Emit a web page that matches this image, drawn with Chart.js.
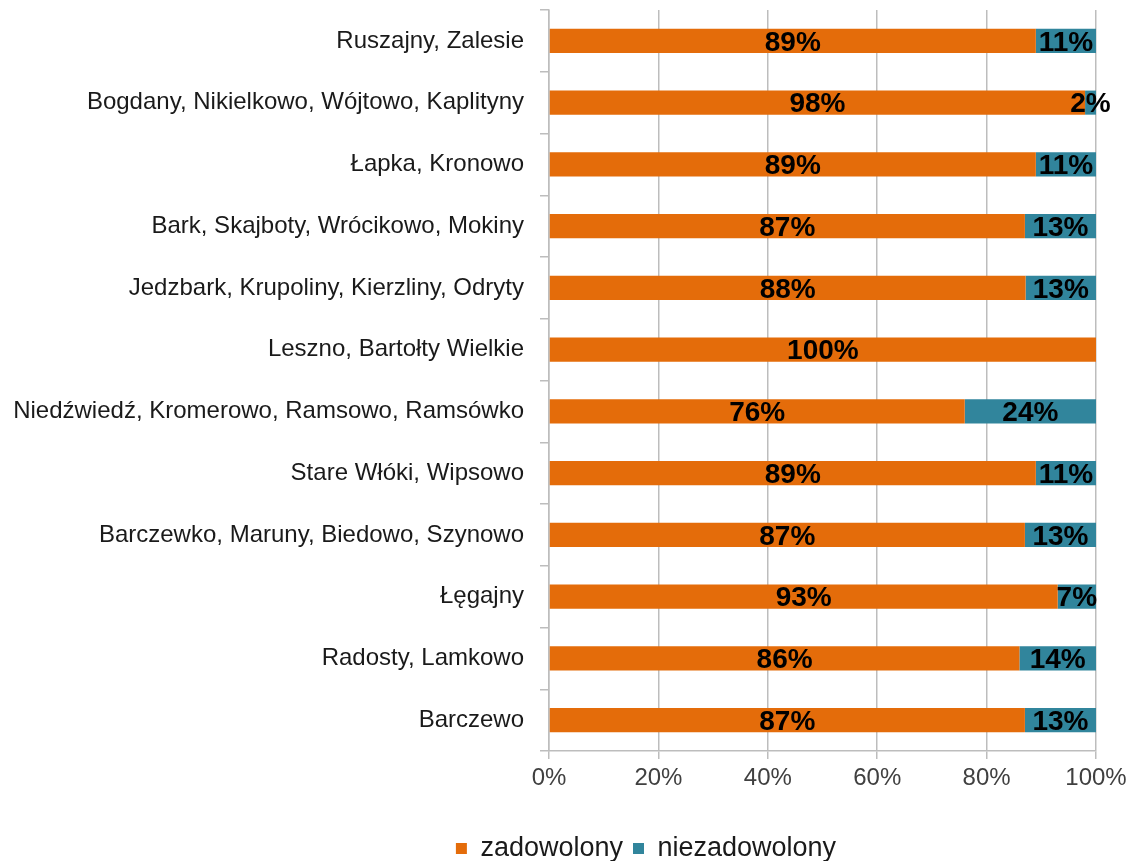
<!DOCTYPE html>
<html>
<head>
<meta charset="utf-8">
<script src="https://cdn.jsdelivr.net/npm/chart.js@4/dist/chart.umd.min.js"></script>
<style>
  html, body { margin: 0; padding: 0; background: #fff; }
  #wrap { width: 1134px; height: 861px; }
</style>
</head>
<body>
<div id="wrap"><canvas id="chart" width="1134" height="861"></canvas></div>
<script>
var categories = [
  'Ruszajny, Zalesie',
  'Bogdany, Nikielkowo, Wójtowo, Kaplityny',
  'Łapka, Kronowo',
  'Bark, Skajboty, Wrócikowo, Mokiny',
  'Jedzbark, Krupoliny, Kierzliny, Odryty',
  'Leszno, Bartołty Wielkie',
  'Niedźwiedź, Kromerowo, Ramsowo, Ramsówko',
  'Stare Włóki, Wipsowo',
  'Barczewko, Maruny, Biedowo, Szynowo',
  'Łęgajny',
  'Radosty, Lamkowo',
  'Barczewo'
];
var zadowolony = [89, 98, 89, 87, 88, 100, 76, 89, 87, 93, 86, 87];
var niezadowolony = [11, 2, 11, 13, 13, 0, 24, 11, 13, 7, 14, 13];
var xTicks = [0, 20, 40, 60, 80, 100];

var FONT = '"Liberation Sans", Arial, sans-serif';

// share of each row (100% stacked)
function share(values, i) {
  var total = zadowolony[i] + niezadowolony[i];
  return values[i] / total * 100;
}

var barLabels = {
  id: 'barLabels',
  afterLayout: function (chart) {
    // legend sits a bit right of the canvas centre and lower down
    var lg = chart.legend;
    lg.left += 94; lg.right += 94;
    lg.top += 11; lg.bottom += 11;
  },
  afterDatasetsDraw: function (chart) {
    var ctx = chart.ctx;
    ctx.save();
    ctx.font = 'bold 28px ' + FONT;
    ctx.fillStyle = '#000';
    ctx.textAlign = 'center';
    ctx.textBaseline = 'middle';
    chart.data.datasets.forEach(function (ds, di) {
      var meta = chart.getDatasetMeta(di);
      meta.data.forEach(function (bar, i) {
        var v = ds.rawValues[i];
        if (!v) return;
        var cx = (bar.x + bar.base) / 2;
        ctx.fillText(v + '%', cx, bar.y + 2);
      });
    });
    ctx.restore();
  }
};

new Chart(document.getElementById('chart').getContext('2d'), {
  type: 'bar',
  data: {
    labels: categories,
    datasets: [
      {
        label: 'zadowolony',
        rawValues: zadowolony,
        data: zadowolony.map(function (v, i) { return share(zadowolony, i); }),
        backgroundColor: '#E46C0A',
        barPercentage: 0.39,
        categoryPercentage: 1
      },
      {
        label: 'niezadowolony',
        rawValues: niezadowolony,
        data: niezadowolony.map(function (v, i) { return share(niezadowolony, i); }),
        backgroundColor: '#31859C',
        barPercentage: 0.39,
        categoryPercentage: 1
      }
    ]
  },
  options: {
    indexAxis: 'y',
    responsive: false,
    animation: false,
    layout: { padding: { left: 8, right: 38, top: 10, bottom: 0 } },
    scales: {
      x: {
        stacked: true,
        min: 0,
        max: 100,
        afterBuildTicks: function (axis) {
          axis.ticks = xTicks.map(function (v) { return { value: v }; });
        },
        afterFit: function (axis) { axis.height = 63; },
        grid: { color: '#bdbdbd', lineWidth: 1.5, tickLength: 8 },
        border: { color: '#bdbdbd', width: 1.5 },
        ticks: {
          color: '#404040',
          font: { family: FONT, size: 24 },
          padding: 5,
          callback: function (v) { return v + '%'; }
        }
      },
      y: {
        stacked: true,
        afterFit: function (axis) {
          axis.width = 541;
          axis.paddingTop = 0;
          axis.paddingBottom = 0;
        },
        grid: { drawOnChartArea: false, color: '#bdbdbd', lineWidth: 1.5, tickLength: 9, offset: true },
        border: { color: '#bdbdbd', width: 1.5 },
        ticks: {
          color: '#1a1a1a',
          font: { family: FONT, size: 24 },
          padding: 16
        }
      }
    },
    plugins: {
      legend: {
        position: 'bottom',
        labels: {
          boxWidth: 11,
          boxHeight: 11,
          color: '#1a1a1a',
          padding: 10,
          font: { family: FONT, size: 27 }
        }
      },
      tooltip: { enabled: false }
    }
  },
  plugins: [barLabels]
});
</script>
</body>
</html>
